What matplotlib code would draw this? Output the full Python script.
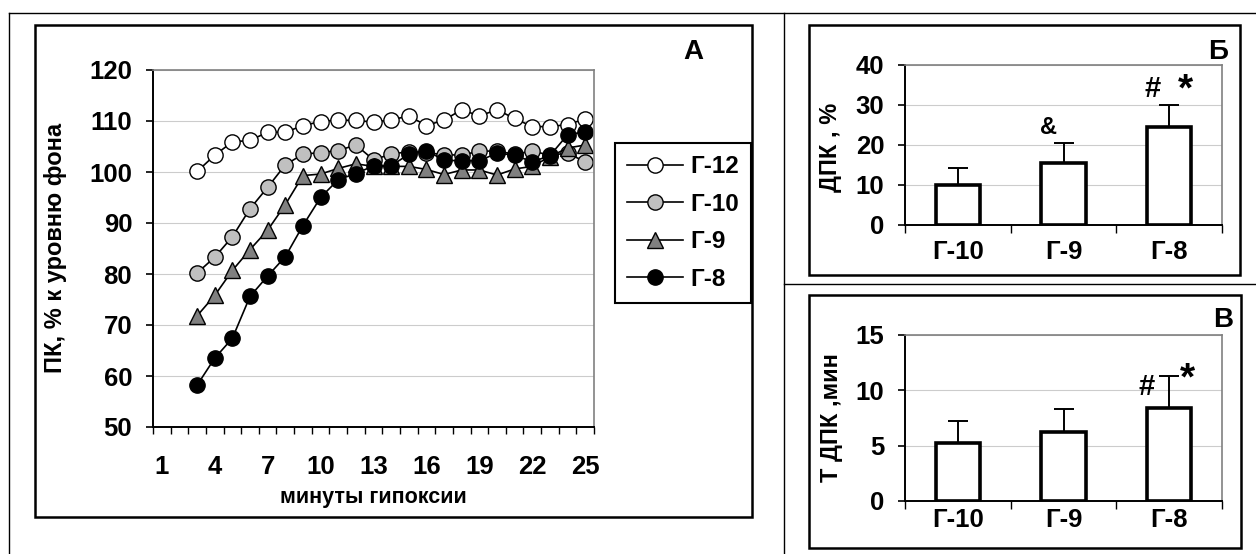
import numpy as np
import matplotlib.pyplot as plt
from matplotlib.patches import Rectangle
from matplotlib.lines import Line2D

plt.rcParams['font.family'] = ['Liberation Sans', 'DejaVu Sans']
plt.rcParams['font.weight'] = 'bold'

# панель А: ПК, % к уровню фона по минутам гипоксии
minutes = np.arange(3, 26)
g12 = [100.1, 103.3, 105.9, 106.2, 107.8, 107.8, 109.1, 109.9, 110.2, 110.1, 109.8, 110.2,
       111.0, 109.1, 110.2, 112.2, 111.0, 112.2, 110.5, 108.9, 108.9, 109.3, 110.4]
g10 = [80.2, 83.3, 87.3, 92.8, 97.0, 101.4, 103.5, 103.8, 104.2, 105.3, 102.4, 103.5,
       104.0, 103.8, 103.4, 103.3, 104.1, 104.1, 103.5, 104.1, 103.3, 103.7, 102.0]
g9 = [71.8, 75.8, 80.7, 84.8, 88.6, 93.6, 99.3, 99.6, 100.7, 101.6, 101.1, 101.1,
      101.1, 100.5, 99.5, 100.4, 100.4, 99.4, 100.6, 101.1, 103.0, 104.7, 105.3]
g8 = [58.2, 63.5, 67.4, 75.6, 79.6, 83.4, 89.5, 95.0, 98.5, 99.7, 101.2, 101.2,
      103.5, 104.2, 102.3, 102.2, 102.2, 103.7, 103.3, 102.0, 103.2, 107.3, 107.9]
series_names = ['Г-12', 'Г-10', 'Г-9', 'Г-8']
xtick_labels = ['1', '4', '7', '10', '13', '16', '19', '22', '25']

# панели Б и В
groups = ['Г-10', 'Г-9', 'Г-8']
dpk = [9.9, 15.5, 24.4]
dpk_err = [4.3, 5.1, 5.7]
t_dpk = [5.2, 6.2, 8.4]
t_dpk_err = [2.0, 2.1, 2.9]

W, H = 1256, 554
fig = plt.figure(figsize=(W / 100, H / 100), dpi=100)


def box(x0, y0, x1, y1):
    return [x0 / W, 1 - y1 / H, (x1 - x0) / W, (y1 - y0) / H]


def fxy(x, y):
    return x / W, 1 - y / H


def frame(x0, y0, x1, y1, lw):
    fig.patches.append(Rectangle(fxy(x0, y1), (x1 - x0) / W, (y1 - y0) / H, fill=False,
                                 ec='k', lw=lw, transform=fig.transFigure))


def line(x0, y0, x1, y1, lw=1.0):
    a, b = fxy(x0, y0)
    c, d = fxy(x1, y1)
    fig.add_artist(Line2D([a, c], [b, d], color='k', lw=lw, transform=fig.transFigure))


# рамки
line(9, 13, W, 13)
line(9, 13, 9, H)
line(784, 13, 784, H)
line(784, 284, W, 284)
frame(35, 25, 752, 517, 1.8)
frame(809, 25, 1240, 275, 1.8)
frame(809, 295, 1241, 548, 1.8)


def style(ax):
    for s in ['top', 'right']:
        ax.spines[s].set_color('#808080')
        ax.spines[s].set_linewidth(1.2)
    for s in ['left', 'bottom']:
        ax.spines[s].set_color('k')
        ax.spines[s].set_linewidth(1.4)
    ax.yaxis.grid(True, color='#cccccc', lw=0.8)
    ax.set_axisbelow(True)
    ax.tick_params(axis='y', direction='out', length=5, width=1.2, labelsize=18.5, pad=10)


# --- А ---
ax = fig.add_axes(box(153, 70, 594, 427))
colors = ['white', '#c0c0c0', '#808080', 'black']
markers = ['o', 'o', '^', 'o']
handles = []
for vals, c, m, name in zip([g12, g10, g9, g8], colors, markers, series_names):
    h, = ax.plot(minutes, vals, '-', color='k', lw=1.2, marker=m, ms=11 if m == 'o' else 12,
                 mfc=c, mec='k', mew=1.0, label=name)
    handles.append(h)
ax.set_xlim(0.5, 25.5)
ax.set_ylim(50, 120)
ax.set_yticks(range(50, 121, 10))
ax.set_xticks(np.arange(0.5, 26, 1))
ax.set_xticklabels([])
ax.set_xticks([int(t) for t in xtick_labels], minor=True)
ax.set_xticklabels(xtick_labels, minor=True)
ax.tick_params(axis='x', which='major', direction='out', length=5, width=1.0)
ax.tick_params(axis='x', which='minor', length=0, labelsize=18.5, pad=20)
style(ax)

fig.text(*fxy(56, 248), 'ПК, % к уровню фона', rotation=90, ha='center', va='center', fontsize=17)
fig.text(*fxy(373, 497), 'минуты гипоксии', ha='center', va='center', fontsize=15.5)
fig.text(*fxy(693, 52), 'А', ha='center', va='center', fontsize=20)

leg = fig.legend(handles=handles, loc='upper left', bbox_to_anchor=fxy(615, 143), fontsize=17.5,
                 frameon=True, fancybox=False, edgecolor='k', framealpha=1, borderaxespad=0,
                 handlelength=2.3, labelspacing=0.6, handletextpad=0.3, borderpad=0.5)
leg.get_frame().set_linewidth(1.5)


# --- Б и В ---
def bars(rect, vals, errs, ymax, step, label_pad):
    a = fig.add_axes(rect)
    x = np.arange(1, len(groups) + 1)
    a.bar(x, vals, width=0.42, color='white', edgecolor='k', lw=2.6, zorder=2)
    a.errorbar(x, vals, yerr=[np.zeros(len(vals)), errs], fmt='none', ecolor='k',
               elinewidth=1.4, capsize=7, capthick=1.4, zorder=3)
    a.set_xlim(0.5, len(groups) + 0.5)
    a.set_ylim(0, ymax)
    a.set_yticks(np.arange(0, ymax + 1, step))
    a.set_xticks(np.arange(0.5, len(groups) + 1, 1))
    a.set_xticklabels([])
    a.set_xticks(x, minor=True)
    a.set_xticklabels(groups, minor=True)
    a.tick_params(axis='x', which='major', direction='out', length=6, width=1.0)
    a.tick_params(axis='x', which='minor', length=0, labelsize=18.5, pad=label_pad)
    style(a)
    return a


def mark(a, i, top, text, dx, dy, size, va):
    a.annotate(text, (i, top), xytext=(dx, dy), textcoords='offset points',
               ha='center', va=va, fontsize=size)


axb = bars(box(905, 65, 1222, 225), dpk, dpk_err, 40, 10, 11)
mark(axb, 2, dpk[1] + dpk_err[1], '&', -11, 11, 17, 'center')
mark(axb, 3, dpk[2] + dpk_err[2], '#', -12, 11.5, 21, 'center')
mark(axb, 3, dpk[2] + dpk_err[2], '*', 12, 3, 28, 'baseline')
fig.text(*fxy(830, 147), 'ДПК , %', rotation=90, ha='center', va='center', fontsize=17)
fig.text(*fxy(1218, 52), 'Б', ha='center', va='center', fontsize=20)

axv = bars(box(905, 335, 1222, 501), t_dpk, t_dpk_err, 15, 5, 5)
mark(axv, 3, t_dpk[2] + t_dpk_err[2], '#', -16, -8, 21, 'center')
mark(axv, 3, t_dpk[2] + t_dpk_err[2], '*', 13, -10, 28, 'baseline')
fig.text(*fxy(831, 418), 'Т ДПК ,мин', rotation=90, ha='center', va='center', fontsize=17)
fig.text(*fxy(1223, 320), 'В', ha='center', va='center', fontsize=20)

fig.savefig('out.png', dpi=100)
